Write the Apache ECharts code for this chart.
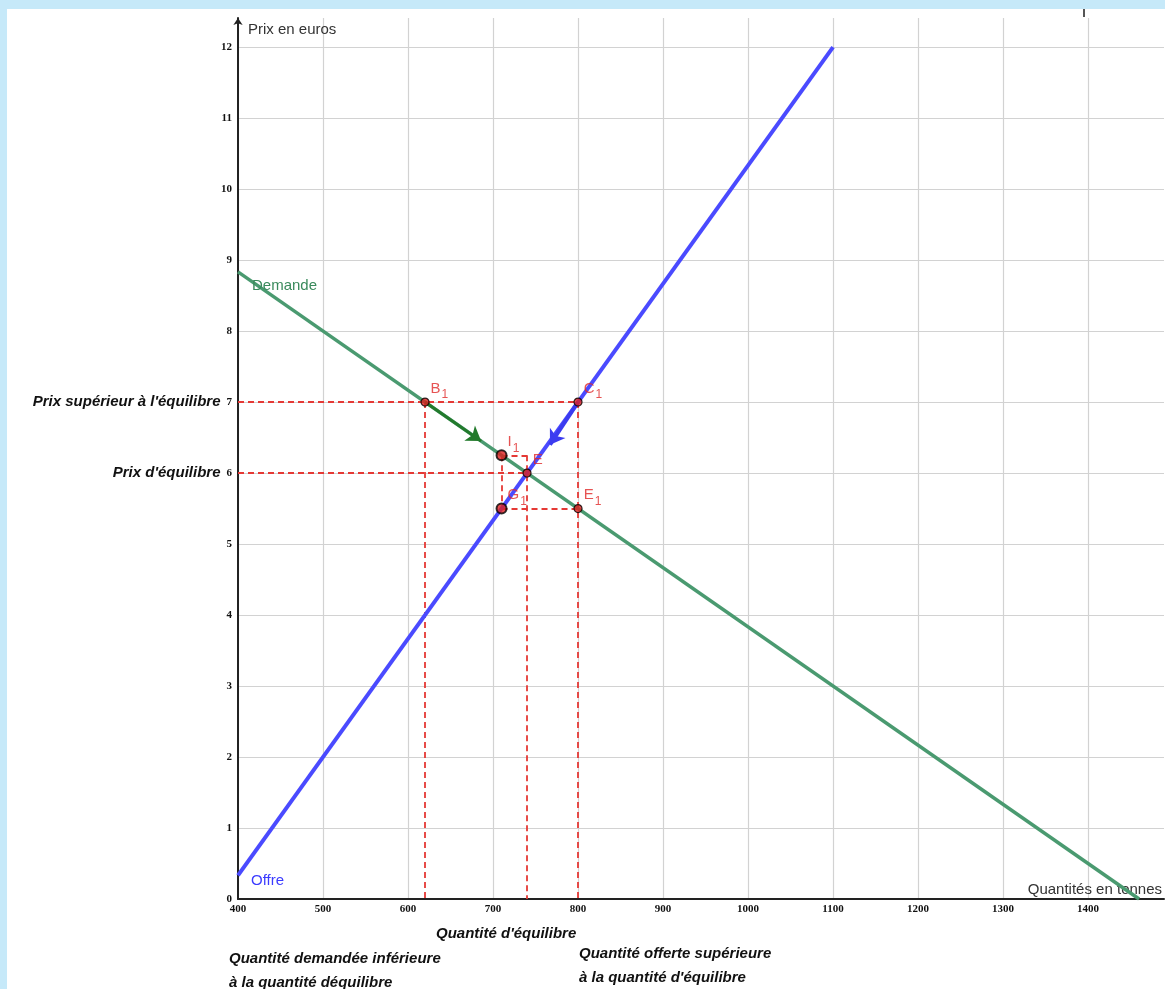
<!DOCTYPE html>
<html><head><meta charset="utf-8">
<script src="https://cdn.jsdelivr.net/npm/echarts@6/dist/echarts.min.js"></script>
<style>html,body{margin:0;padding:0;background:#fff;overflow:hidden}#c{width:1165px;height:989px}</style>
</head><body><div id="c"></div>
<script>
// ---- data ----
const xTicks = [400, 500, 600, 700, 800, 900, 1000, 1100, 1200, 1300, 1400];
const yTicks = [0, 1, 2, 3, 4, 5, 6, 7, 8, 9, 10, 11, 12];
const supplyQ = [400, 1100];
const supplyP = [0.333, 12];
const demandQ = [400, 1460];
const demandP = [8.833, 0];
const pointNames = ['B', 'C', 'I', 'E', 'G', 'E'];
const pointSubs = ['1', '1', '1', '', '1', '1'];
const pointQ = [620, 800, 710, 740, 710, 800];
const pointP = [7, 7, 6.25, 6, 5.5, 5.5];
const guideFromQ = [400, 620, 800, 400, 740, 710, 710, 710];
const guideFromP = [7, 7, 7, 6, 6.25, 6.25, 6.25, 5.5];
const guideToQ = [800, 620, 800, 740, 740, 740, 710, 800];
const guideToP = [7, 0, 0, 6, 0, 6.25, 5.5, 5.5];
const arrowFromQ = [620, 800];
const arrowFromP = [7, 7];
const arrowToQ = [686, 767];
const arrowToP = [6.45, 6.4];
const priceNoteValues = [7, 6];
const priceNoteTexts = ["Prix supérieur à l'équilibre", "Prix d'équilibre"];

const SANS = "'Liberation Sans', Arial, sans-serif";
const SERIF = "'Liberation Serif', 'Times New Roman', serif";
const bigPoints = ['I', 'G'];

const chart = echarts.init(document.getElementById('c'));
const noteStyle = {fontFamily: SANS, fontSize: 15, fontWeight: 'bold', fontStyle: 'italic', fill: '#111'};
function noteText(text, x, y) {
  return {type: 'text', left: x, top: y - 9, z: 20, style: Object.assign({text: text}, noteStyle)};
}

const option = {
  backgroundColor: '#ffffff',
  animation: false,
  grid: {left: 238, top: 18, right: 0, bottom: 90, containLabel: false},
  xAxis: {
    type: 'value', min: 400, max: 1489.3, interval: 100,
    name: 'Quantités en tonnes', nameLocation: 'end', nameGap: -2,
    nameTextStyle: {fontFamily: SANS, fontSize: 15, color: '#333', align: 'right', verticalAlign: 'bottom', padding: [0, 0, 2, 0]},
    axisLine: {lineStyle: {color: '#222', width: 2}},
    axisTick: {show: false},
    splitLine: {show: true, showMaxLine: false, lineStyle: {color: '#d2d2d2', width: 1.2}},
    axisLabel: {
      showMaxLabel: false, margin: 5,
      fontFamily: SERIF, fontWeight: 'bold', fontSize: 11, color: '#111',
      formatter: v => xTicks.includes(v) ? String(v) : ''
    }
  },
  yAxis: {
    type: 'value', min: 0, max: 12.41, interval: 1,
    name: 'Prix en euros', nameLocation: 'end', nameGap: -12,
    nameTextStyle: {fontFamily: SANS, fontSize: 15, color: '#333', align: 'left', verticalAlign: 'middle', padding: [0, 0, 0, 10]},
    axisLine: {onZero: false, lineStyle: {color: '#222', width: 2}, symbol: ['none', 'arrow'], symbolSize: [7, 7]},
    axisTick: {show: false},
    splitLine: {show: true, showMaxLine: false, lineStyle: {color: '#d2d2d2', width: 1.2}},
    axisLabel: {
      showMaxLabel: false, margin: 6,
      formatter: v => {
        if (!yTicks.includes(v)) return '';
        const k = priceNoteValues.indexOf(v);
        if (k >= 0) return '{t|' + priceNoteTexts[k] + '}{n|' + v + '}';
        return '{n|' + v + '}';
      },
      rich: {
        t: {fontFamily: SANS, fontSize: 15, fontWeight: 'bold', fontStyle: 'italic', color: '#111', padding: [0, 6, 0, 0]},
        n: {fontFamily: SERIF, fontSize: 11, fontWeight: 'bold', color: '#111'}
      }
    }
  },
  series: [
    {
      type: 'lines', coordinateSystem: 'cartesian2d', silent: true, z: 2,
      lineStyle: {color: '#e53935', width: 1.8, type: [6, 4], opacity: 1},
      data: guideFromQ.map((q, i) => ({coords: [[q, guideFromP[i]], [guideToQ[i], guideToP[i]]]}))
    },
    {
      type: 'line', showSymbol: false, silent: true, z: 3,
      lineStyle: {color: '#4a9a70', width: 3.5},
      data: demandQ.map((q, i) => [q, demandP[i]])
    },
    {
      type: 'line', showSymbol: false, silent: true, z: 3,
      lineStyle: {color: '#4a4aff', width: 4},
      data: supplyQ.map((q, i) => [q, supplyP[i]])
    },
    {
      type: 'lines', coordinateSystem: 'cartesian2d', silent: true, z: 4,
      symbol: ['none', 'arrow'], symbolSize: 14,
      data: arrowFromQ.map((q, i) => ({
        coords: [[q, arrowFromP[i]], [arrowToQ[i], arrowToP[i]]],
        lineStyle: {color: i === 0 ? '#237a2c' : '#3b3bf0', width: i === 0 ? 3 : 4, opacity: 1}
      }))
    },
    {
      type: 'scatter', silent: true, z: 10,
      data: pointQ.map((q, i) => {
        const big = bigPoints.includes(pointNames[i]);
        return {
          value: [q, pointP[i]],
          symbolSize: big ? 10 : 8,
          itemStyle: {color: '#dd2020', borderColor: '#000', borderWidth: big ? 2 : 1.2},
          label: {
            show: true, position: 'right', distance: big ? 0 : 1, offset: [0, -13.5],
            formatter: pointSubs[i] ? '{m|' + pointNames[i] + '}{s|' + pointSubs[i] + '}' : '{m|' + pointNames[i] + '}{e| }',
            rich: {
              m: {fontFamily: SANS, fontSize: 15, color: '#e02828', lineHeight: 16},
              s: {fontFamily: SANS, fontSize: 12, color: '#e02828', lineHeight: 12, padding: [13, 0, 0, 1]},
              e: {fontSize: 12, lineHeight: 12, padding: [13, 0, 0, 0]}
            }
          }
        };
      })
    }
  ],
  graphic: [
    {type: 'rect', left: 0, top: 0, z: -1, shape: {width: 1165, height: 9}, style: {fill: '#c6e9f9'}},
    {type: 'rect', left: 0, top: 0, z: -1, shape: {width: 7, height: 989}, style: {fill: '#c6e9f9'}},
    {type: 'rect', left: 1083, top: 9, z: 20, shape: {width: 2, height: 8}, style: {fill: '#555'}},
    {type: 'text', left: 252, top: 278, z: 20, style: {text: 'Demande', fontFamily: SANS, fontSize: 15, fill: '#3a8a5c'}},
    {type: 'text', left: 251, top: 873, z: 20, style: {text: 'Offre', fontFamily: SANS, fontSize: 15, fill: '#3b3bff'}},
    noteText("Quantité d'équilibre", 436, 935),
    noteText('Quantité demandée inférieure', 229, 960),
    noteText('à la quantité déquilibre', 229, 984),
    noteText('Quantité offerte supérieure', 579, 955),
    noteText("à la quantité d'équilibre", 579, 979)
  ]
};
chart.setOption(option);
</script>
</body></html>
